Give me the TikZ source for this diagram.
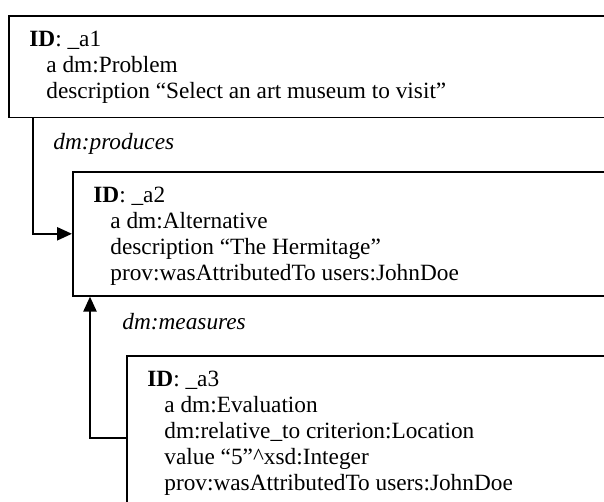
\documentclass[tikz,border=0pt]{standalone}
\usepackage{fontspec}
\setmainfont{Liberation Serif}
\usetikzlibrary{arrows.meta,calc}

\newcommand{\ind}{\hspace*{8.75pt}}

\begin{document}
\begin{tikzpicture}[
    x=0.515pt, y=-0.515pt,
    box/.style={draw, line width=0.8pt, anchor=north west, minimum width=400pt, inner sep=0pt},
    txt/.style={anchor=north west, align=left, inner sep=0pt, font=\fontsize{12}{13.3}\selectfont},
    rel/.style={anchor=base west, inner sep=0pt, font=\fontsize{12}{13.3}\selectfont\itshape},
    link/.style={line width=1.2pt, -{Triangle[length=7.7pt, width=6.7pt]}},
]
\useasboundingbox (0,0) rectangle (604,502);
\clip (0,0) rectangle (604,502);

\node[box, minimum height=52.5pt] (a1) at (8,15) {};
\node[box, minimum height=63.9pt] (a2) at (72,171) {};
\node[box, minimum height=84.5pt] (a3) at (126,355) {};

\node[txt] (t1) at ($(a1.north west)+(21,16)$) {\textbf{ID}: \_a1\\
    \ind a dm:Problem\\
    \ind description “Select an art museum to visit”};
\node[txt] (t2) at ($(a2.north west)+(21,16)$) {\textbf{ID}: \_a2\\
    \ind a dm:Alternative\\
    \ind description “The Hermitage”\\
    \ind prov:wasAttributedTo users:JohnDoe};
\node[txt] (t3) at ($(a3.north west)+(21,16)$) {\textbf{ID}: \_a3\\
    \ind a dm:Evaluation\\
    \ind dm:relative\_to criterion:Location\\
    \ind value “5”\textasciicircum xsd:Integer\\
    \ind prov:wasAttributedTo users:JohnDoe};

% relations
\node[rel] (produces) at (53,150) {dm:produces};
\node[rel] (measures) at (122,330) {dm:measures};

\draw[link] ($(a1.south west)+(25,0)$) |- (a2.west);
\draw[link] (a3.west) -| ($(a2.south west)+(18,0)$);

\end{tikzpicture}
\end{document}
